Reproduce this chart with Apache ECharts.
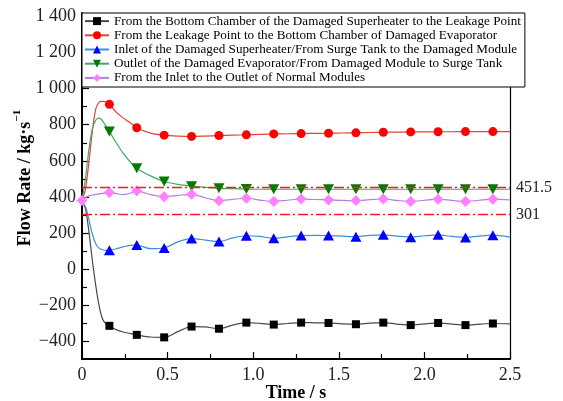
<!DOCTYPE html>
<html>
<head>
<meta charset="utf-8">
<script src="https://cdn.jsdelivr.net/npm/echarts@6/dist/echarts.min.js"></script>
<style>
  html, body { margin: 0; padding: 0; background: #fff; }
  #chart { width: 563px; height: 401px; }
</style>
</head>
<body>
<div id="chart"></div>
<script>
// Sample times (s); markers are drawn every 0.16 s
const times = [0, 0.02, 0.04, 0.06, 0.08, 0.10, 0.12, 0.14, 0.16, 0.20, 0.24, 0.28, 0.32, 0.40, 0.48,
  0.56, 0.64, 0.72, 0.80, 0.88, 0.96, 1.04, 1.12, 1.20, 1.28, 1.36, 1.44, 1.52, 1.60, 1.68, 1.76,
  1.84, 1.92, 2.00, 2.08, 2.16, 2.24, 2.32, 2.40, 2.50];

// Flow rates (kg/s)
const bottomToLeak = [375, 335, 210, 50, -90, -205, -278, -305, -316, -337, -350, -358, -366, -378, -380,
  -348, -320, -322, -332, -312, -298, -302, -309, -303, -298, -299, -300, -305, -307, -301, -298,
  -306, -312, -305, -300, -307, -312, -307, -303, -305];
const leakToEvaporator = [380, 440, 590, 760, 885, 925, 930, 926, 913, 870, 838, 812, 783, 753, 742,
  737, 735, 737, 740, 742, 744, 747, 749, 750, 751, 752, 753, 754, 755, 757, 758,
  759, 760, 760, 761, 761, 762, 762, 762, 762];
const superheaterInlet = [372, 345, 275, 195, 140, 115, 106, 103, 104, 112, 122, 130, 132, 112, 116,
  150, 168, 160, 152, 172, 184, 180, 170, 178, 185, 186, 185, 182, 179, 186, 189,
  182, 176, 184, 189, 180, 174, 182, 187, 176];
const evaporatorOutlet = [380, 500, 660, 775, 825, 838, 822, 792, 762, 700, 642, 596, 558, 516, 485,
  469, 459, 452, 447, 445, 443, 442, 442, 442, 442, 442, 442, 442, 442, 442, 442,
  442, 442, 442, 442, 442, 442, 442, 442, 442];
const normalModules = [380, 395, 405, 410, 413, 416, 419, 422, 424, 418, 412, 420, 433, 412, 401,
  408, 414, 395, 378, 386, 392, 382, 374, 381, 388, 385, 383, 380, 379, 384, 388,
  380, 374, 381, 387, 380, 374, 381, 387, 383];

const seriesNames = [
  'From the Bottom Chamber of the Damaged Superheater to the Leakage Point',
  'From the Leakage Point to the Bottom Chamber of Damaged Evaporator',
  'Inlet of the Damaged Superheater/From Surge Tank to the Damaged Module',
  'Outlet of the Damaged Evaporator/From Damaged Module to Surge Tank',
  'From the Inlet to the Outlet of Normal Modules'
];

// Reference flow levels (dash-dot lines)
const refLevels = [451.5, 301];

// Axis ticks
const xTickLabels = ['0', '0.5', '1.0', '1.5', '2.0', '2.5'];
const yMajorTicks = [-400, -200, 0, 200, 400, 600, 800, 1000, 1200, 1400];
const yMinorTicks = [-300, -100, 100, 300, 500, 700, 900, 1100, 1300];

const markerStep = 0.16;
const serif = 'Liberation Serif';

function isMarker(t) {
  const k = t / markerStep;
  return t > 0 && Math.abs(k - Math.round(k)) < 1e-6;
}

function makeSeries(name, values, symbol, size, lineColor, markColor, markStart, extra) {
  return Object.assign({
    type: 'line',
    name: name,
    smooth: 0.3,
    symbol: symbol,
    symbolSize: size,
    showAllSymbol: true,
    animation: false,
    lineStyle: { color: lineColor, width: 1.2 },
    itemStyle: { color: markColor },
    data: times.map((t, i) => {
      const show = isMarker(t) || (markStart && i === 0);
      return show ? { value: [t, values[i]] } : { value: [t, values[i]], symbol: 'none' };
    })
  }, extra || {});
}

function fmtY(v) {
  const a = Math.abs(v);
  let s = a >= 1000 ? Math.floor(a / 1000) + ' ' + String(a % 1000).padStart(3, '0') : String(a);
  return v < 0 ? '\u2212' + s : s;
}

const chart = echarts.init(document.getElementById('chart'), null, { renderer: 'canvas' });

const yRange = { min: -500, max: 1420 };

const option = {
  backgroundColor: '#fff',
  animation: false,
  grid: { left: 82, right: 53, top: 13, bottom: 42, containLabel: false, outerBoundsMode: 'none' },
  legend: {
    orient: 'vertical',
    left: 82,
    top: 13,
    padding: [1, 4, 2, 2],
    itemGap: 0,
    itemWidth: 24,
    itemHeight: 10,
    backgroundColor: '#fff',
    borderColor: '#000',
    borderWidth: 1,
    z: 10,
    textStyle: { fontFamily: serif, fontSize: 13.15, color: '#000', lineHeight: 14.2 },
    data: seriesNames
  },
  xAxis: {
    type: 'value',
    min: 0,
    max: 2.5,
    interval: 0.5,
    name: 'Time / s',
    nameLocation: 'middle',
    nameGap: 25,
    nameMoveOverlap: false,
    nameTextStyle: { fontFamily: serif, fontSize: 18, fontWeight: 'bold', color: '#000' },
    axisLine: { show: true, onZero: false, lineStyle: { color: '#000', width: 2 } },
    axisTick: { show: true, inside: true, length: 7, lineStyle: { color: '#000', width: 1.2 } },
    minorTick: { show: true, splitNumber: 2, length: 5, lineStyle: { color: '#000', width: 1.2 } },
    splitLine: { show: false },
    axisLabel: {
      fontFamily: serif, fontSize: 18, color: '#222', margin: 7,
      formatter: v => xTickLabels[Math.round(v / 0.5)]
    }
  },
  yAxis: [
    {
      type: 'value',
      min: yRange.min,
      max: yRange.max,
      position: 'left',
      name: '{m|Flow Rate / kg\u00b7s}{s|\u22121}',
      nameLocation: 'middle',
      nameGap: 48,
      nameMoveOverlap: false,
      nameRotate: 90,
      nameTextStyle: {
        rich: {
          m: { fontFamily: serif, fontSize: 18, fontWeight: 'bold', color: '#000', lineHeight: 22, verticalAlign: 'bottom', padding: [0, 0, 0, 16] },
          s: { fontFamily: serif, fontSize: 11, fontWeight: 'bold', color: '#000', lineHeight: 12, verticalAlign: 'top' }
        }
      },
      axisLine: { show: true, onZero: false, lineStyle: { color: '#000', width: 2 } },
      axisTick: { show: true, inside: true, length: 7, customValues: yMajorTicks, lineStyle: { color: '#000', width: 1.2 } },
      splitLine: { show: false },
      axisLabel: {
        fontFamily: serif, fontSize: 18, color: '#222', margin: 6,
        customValues: yMajorTicks, formatter: fmtY
      }
    },
    {
      type: 'value',
      min: yRange.min,
      max: yRange.max,
      position: 'left',
      axisLine: { show: false },
      axisTick: { show: true, inside: true, length: 5, customValues: yMinorTicks, lineStyle: { color: '#000', width: 1.2 } },
      axisLabel: { show: false },
      splitLine: { show: false }
    },
    {
      type: 'value',
      min: yRange.min,
      max: yRange.max,
      position: 'right',
      axisLine: { show: true, onZero: false, lineStyle: { color: '#000', width: 1.2 } },
      axisTick: { show: false },
      axisLabel: { show: false },
      splitLine: { show: false }
    }
  ],
  series: [
    makeSeries(seriesNames[0], bottomToLeak, 'rect', 8, '#4a4a4a', '#000', false),
    makeSeries(seriesNames[1], leakToEvaporator, 'circle', 9, '#e8403c', '#ff0000', false, {
      markLine: {
        silent: true,
        symbol: 'none',
        animation: false,
        lineStyle: { color: '#ff1a1a', width: 1.4, type: [10, 3, 2, 3] },
        label: {
          position: 'end', distance: 6, fontFamily: serif, fontSize: 16, color: '#222',
          formatter: p => String(p.value)
        },
        data: refLevels.map(v => ({ yAxis: v }))
      }
    }),
    makeSeries(seriesNames[2], superheaterInlet, 'triangle', [11, 10], '#3d8fdb', '#0000ff', false),
    makeSeries(seriesNames[3], evaporatorOutlet, 'path://M0,0 L10,0 L5,9 Z', [11, 10], '#41a86c', '#007a00', false),
    makeSeries(seriesNames[4], normalModules, 'diamond', [11, 11], '#b27ee2', '#ff80ff', true)
  ]
};

chart.setOption(option);
</script>
</body>
</html>
